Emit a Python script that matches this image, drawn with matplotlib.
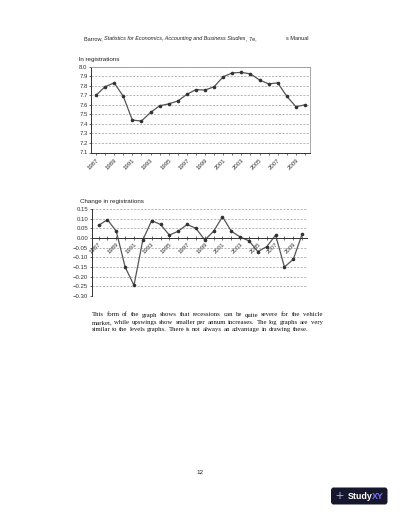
import matplotlib
matplotlib.use("Agg")
import matplotlib.pyplot as plt
from matplotlib.patches import FancyBboxPatch

years = list(range(1987, 2011))
ln_reg = [7.70, 7.79, 7.83, 7.69, 7.44, 7.43, 7.52, 7.59, 7.61, 7.64, 7.71, 7.76,
          7.755, 7.79, 7.895, 7.935, 7.94, 7.925, 7.86, 7.82, 7.83, 7.69, 7.58, 7.60]
chg_reg = [0.065, 0.095, 0.035, -0.15, -0.245, -0.01, 0.09, 0.07, 0.015, 0.035, 0.07, 0.05,
           -0.01, 0.035, 0.11, 0.035, 0.005, -0.015, -0.07, -0.045, 0.015, -0.15, -0.11, 0.02]
xlabels = [str(y) if (y - 1987) % 2 == 0 else "" for y in years]
top_yticks = [7.1, 7.2, 7.3, 7.4, 7.5, 7.6, 7.7, 7.8, 7.9, 8.0]
bot_yticks = [-0.30, -0.25, -0.20, -0.15, -0.10, -0.05, 0.0, 0.05, 0.10, 0.15]

W, H = 400, 518
fig = plt.figure(figsize=(W / 100, H / 100), dpi=100)
fig.patch.set_facecolor("white")

SANS = ["Liberation Sans", "DejaVu Sans"]
SERIF = ["Liberation Serif", "DejaVu Serif"]


def fx(x):
    return x / W


def fy(y):
    return 1 - y / H


def rect(x0, y0, x1, y1):
    return [fx(x0), fy(y1), fx(x1) - fx(x0), fy(y0) - fy(y1)]


line_col = "#555555"
grid_col = "#9a9a9a"
fs = 4.3

renderer = fig.canvas.get_renderer()


def place_run(parts, x, y, size):
    cx = x
    for txt, style in parts:
        t = fig.text(fx(cx), fy(y), txt, fontsize=size, family=SANS, style=style,
                     va="center", ha="left", color="#222222")
        bb = t.get_window_extent(renderer=renderer)
        cx += bb.width
    return cx


# ---------- header ----------
place_run([("Barrow, ", "normal"),
           ("Statistics for Economics, Accounting and Business Studies", "italic"),
           (", 7e,", "normal")], 84, 38.5, 3.95)
fig.text(fx(286), fy(38.5), "s Manual", fontsize=3.95, family=SANS, va="center",
         ha="left", color="#222222")

x = list(range(len(years)))

# ---------- top chart ----------
ax1 = fig.add_axes(rect(91, 66.7, 310, 152.5))
ax1.plot(x, ln_reg, color=line_col, lw=0.9, marker="o", ms=1.6,
         mfc="#333333", mec="#333333")
ax1.set_xlim(-0.55, len(years) - 0.45)
ax1.set_ylim(7.1, 8.0)
ax1.set_yticks(top_yticks)
ax1.set_yticklabels([f"{v:.1f}" for v in top_yticks], fontsize=fs, family=SANS)
ax1.set_xticks(x)
ax1.set_xticklabels(xlabels, rotation=45, ha="right", rotation_mode="anchor",
                    fontsize=fs, family=SANS)
ax1.yaxis.grid(True, color=grid_col, lw=0.5, ls=(0, (3, 2)))
ax1.set_axisbelow(True)
for s in ["top", "right"]:
    ax1.spines[s].set_color("#999999")
    ax1.spines[s].set_linewidth(0.6)
for s in ["left", "bottom"]:
    ax1.spines[s].set_color("#333333")
    ax1.spines[s].set_linewidth(0.7)
ax1.tick_params(axis="both", length=1.5, width=0.5, pad=1, colors="#333333")
ax1.tick_params(axis="x", pad=2)
fig.text(fx(79), fy(60), "ln registrations", fontsize=4.5, family=SANS,
         va="center", ha="left", color="#222222")

# ---------- bottom chart ----------
ax2 = fig.add_axes(rect(91.5, 209, 307, 296))
ax2.spines["bottom"].set_position(("data", 0))
ax2.plot(x, chg_reg, color=line_col, lw=0.9, marker="o", ms=1.6,
         mfc="#333333", mec="#333333")
ax2.set_xlim(-0.8, len(years) - 0.45)
ax2.set_ylim(-0.30, 0.15)
ax2.set_yticks(bot_yticks)
ax2.set_yticklabels([f"{v:.2f}".replace("-", "\u2212") for v in bot_yticks],
                    fontsize=fs, family=SANS)
ax2.set_xticks(x)
ax2.set_xticklabels(xlabels, rotation=45, ha="right", rotation_mode="anchor",
                    fontsize=fs, family=SANS)
ax2.yaxis.grid(True, color=grid_col, lw=0.5, ls=(0, (3, 2)))
ax2.set_axisbelow(True)
ax2.spines["bottom"].set_color("#333333")
ax2.spines["bottom"].set_linewidth(0.7)
ax2.spines["left"].set_color("#333333")
ax2.spines["left"].set_linewidth(0.7)
ax2.spines["top"].set_visible(False)
ax2.spines["right"].set_visible(False)
ax2.tick_params(axis="both", length=1.5, width=0.5, pad=1, colors="#333333")
ax2.tick_params(axis="x", direction="inout", length=2.5, pad=1.5)
fig.text(fx(80), fy(202), "Change in registrations", fontsize=4.5, family=SANS,
         va="center", ha="left", color="#222222")

# ---------- paragraph ----------
para = [
    ("This form of the graph shows that recessions can be quite severe for the vehicle", True),
    ("market, while upswings show smaller per annum increases. The log graphs are very", True),
    ("similar to the levels graphs. There is not always an advantage in drawing these.", False),
]
left_px, right_px = 91.7, 322.5
psize = 4.9
sp = fig.text(0, 0, "a a", fontsize=psize, family=SERIF)
sp2 = fig.text(0, 0, "aa", fontsize=psize, family=SERIF)
nat_gap = (sp.get_window_extent(renderer=renderer).width
           - sp2.get_window_extent(renderer=renderer).width)
sp.remove()
sp2.remove()
for i, (line, justify) in enumerate(para):
    ypx = 315 + i * 7.4
    words = line.split(" ")
    texts = [fig.text(0, fy(ypx), w, fontsize=psize, family=SERIF, va="center",
                      ha="left", color="#111111") for w in words]
    widths = [t.get_window_extent(renderer=renderer).width for t in texts]
    if justify:
        gap = (right_px - left_px - sum(widths)) / (len(words) - 1)
    else:
        gap = nat_gap
    cx = left_px
    for t, w in zip(texts, widths):
        t.set_x(fx(cx))
        cx += w + gap

# ---------- page number ----------
fig.text(fx(200), fy(472), "12", fontsize=4.5, family=SANS, va="center", ha="center",
         color="#222222")

# ---------- logo ----------
logo = FancyBboxPatch((fx(331), fy(504.5)), fx(387.5) - fx(331), fy(487.5) - fy(504.5),
                      boxstyle="round,pad=0,rounding_size=0.006",
                      transform=fig.transFigure, facecolor="#16162c", edgecolor="none")
fig.patches.append(logo)
fig.text(fx(339.5), fy(496), "+", fontsize=10, family=SANS, va="center", ha="center",
         color="#9d9de8", fontweight="light")
t1 = fig.text(fx(347.5), fy(496.3), "Study", fontsize=6.4, family=SANS, va="center",
              ha="left", color="white", fontweight="bold")
w1 = t1.get_window_extent(renderer=renderer).width
fig.text(fx(347.5 + w1), fy(496.3), "XY", fontsize=6.4, family=SANS, va="center",
         ha="left", color="#7474f2", fontweight="bold")

fig.savefig("out.png", dpi=100, facecolor="white")
